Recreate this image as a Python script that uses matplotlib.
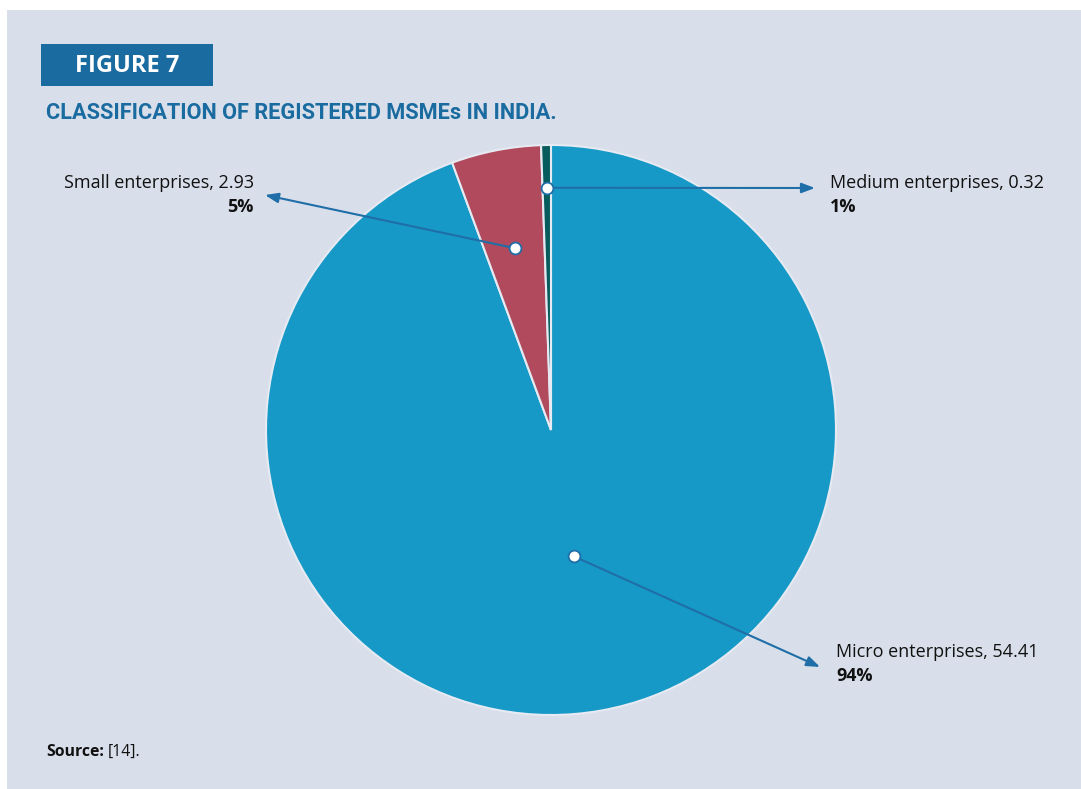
import matplotlib
matplotlib.use("Agg")
import matplotlib.pyplot as plt
import numpy as np
from matplotlib.patches import Rectangle

W, H = 1081, 789

labels = ["Micro enterprises", "Small enterprises", "Medium enterprises"]
values = [54.41, 2.93, 0.32]
pct_labels = ["94%", "5%", "1%"]
colors = ["#1699C6", "#B04A5C", "#065B5C"]

BG = "#D9DFEA"
BLUE = "#1A6BA0"
ARROW = "#1F6EA8"

plt.rcParams["font.family"] = ["Open Sans", "DejaVu Sans"]

fig = plt.figure(figsize=(W / 100, H / 100), dpi=100)
fig.patch.set_facecolor("white")
fig.patches.append(Rectangle((7 / W, 0), 1 - 7 / W, 1 - 10 / H, transform=fig.transFigure,
                             facecolor=BG, edgecolor="none", zorder=-10))

# title block
fig.patches.append(Rectangle((41 / W, 1 - 86 / H), 172 / W, 42 / H, transform=fig.transFigure,
                             facecolor=BLUE, edgecolor="none"))
fig.text(127 / W, 1 - 66 / H, "FIGURE 7", color="white", fontsize=17, fontweight="bold",
         ha="center", va="center")
fig.text(46 / W, 1 - 113 / H, "CLASSIFICATION OF REGISTERED MSMEs IN INDIA.", color=BLUE,
         fontsize=15.7, fontweight="bold", ha="left", va="center",
         family=["Roboto", "DejaVu Sans"])

# pie
cx, cy, r = 551, 430, 285
ax = fig.add_axes([(cx - r) / W, (H - cy - r) / H, 2 * r / W, 2 * r / H])
wedges, _ = ax.pie(values, colors=colors, startangle=90, counterclock=False, radius=1,
                   wedgeprops=dict(edgecolor="#E6EAF2", linewidth=1.5))
ax.set_xlim(-1, 1)
ax.set_ylim(-1, 1)
ax.set_aspect("equal")
ax.axis("off")

# annotations: dot radius, arrow head (px), text anchor (px), alignment
dot_r = [0.45, 0.65, 0.85]
heads = [(820, 667), (265, 195), (815, 188)]
text_pos = [(836, 652), (254, 183), (830, 183)]
aligns = ["left", "right", "left"]

for w, dr, head, tp, ha, lab, val, pct in zip(wedges, dot_r, heads, text_pos, aligns,
                                              labels, values, pct_labels):
    ang = np.deg2rad((w.theta1 + w.theta2) / 2)
    dx, dy = dr * np.cos(ang), dr * np.sin(ang)
    ax.annotate("", xy=(head[0], H - head[1]), xycoords="figure pixels",
                xytext=(dx, dy), textcoords="data",
                arrowprops=dict(arrowstyle="-|>,head_length=0.8,head_width=0.3",
                                color=ARROW, lw=1.5, shrinkA=0, shrinkB=0))
    ax.plot(dx, dy, "o", ms=8.5, mfc="white", mec=ARROW, mew=1.3, zorder=5)
    fig.text(tp[0] / W, 1 - tp[1] / H, f"{lab}, {val:.2f}", fontsize=13, ha=ha,
             va="center", color="#111111")
    fig.text(tp[0] / W, 1 - (tp[1] + 24) / H, pct, fontsize=13, fontweight="bold",
             ha=ha, va="center", color="#111111")

src = fig.text(46 / W, 1 - 752 / H, "Source:", fontsize=11.3, fontweight="bold", ha="left",
               va="center", color="#111111")
ax.annotate("[14].", xy=(1, 0.5), xycoords=src, xytext=(3, 0), textcoords="offset points",
            fontsize=11.3, ha="left", va="center", color="#111111", annotation_clip=False)

fig.savefig("out.png", dpi=100, facecolor=fig.get_facecolor())
